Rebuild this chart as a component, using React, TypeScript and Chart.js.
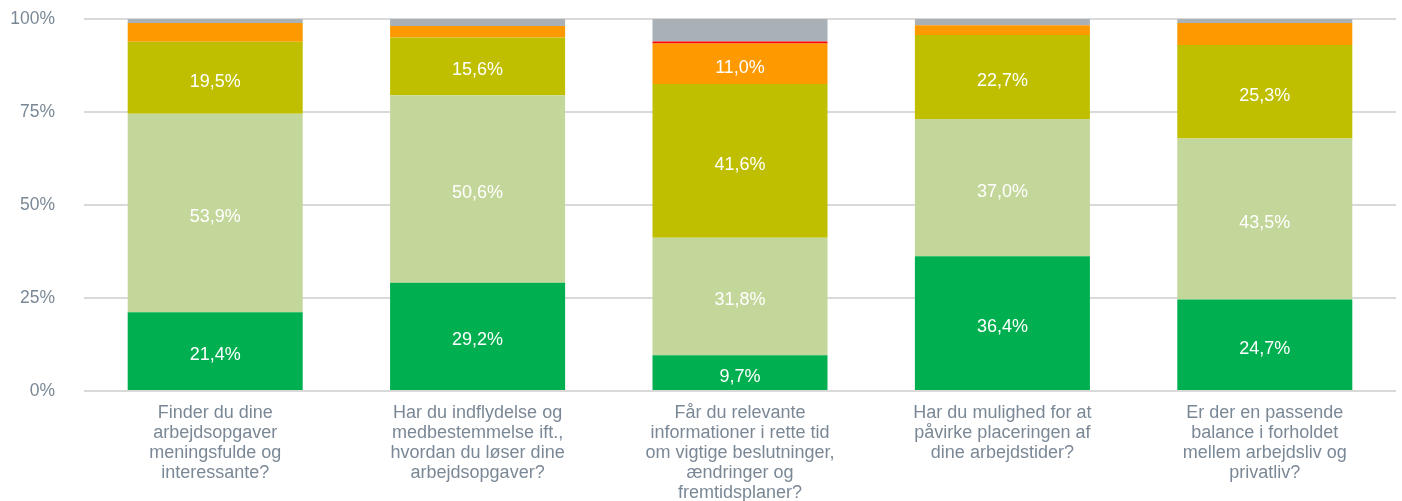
import React, { useEffect, useRef } from "react";
import { Chart, registerables } from "chart.js";

Chart.register(...registerables);

const categories: string[][] = [
  ["Finder du dine", "arbejdsopgaver", "meningsfulde og", "interessante?"],
  ["Har du indflydelse og", "medbestemmelse ift.,", "hvordan du løser dine", "arbejdsopgaver?"],
  ["Får du relevante", "informationer i rette tid", "om vigtige beslutninger,", "ændringer og", "fremtidsplaner?"],
  ["Har du mulighed for at", "påvirke placeringen af", "dine arbejdstider?"],
  ["Er der en passende", "balance i forholdet", "mellem arbejdsliv og", "privatliv?"],
];

const darkGreen = [21.4, 29.2, 9.7, 36.4, 24.7];
const lightGreen = [53.9, 50.6, 31.8, 37.0, 43.5];
const olive = [19.5, 15.6, 41.6, 22.7, 25.3];
const orange = [5.1, 3.1, 11.0, 2.6, 5.9];
const red = [0, 0, 0.5, 0, 0];
const gray = [1.1, 1.9, 6.1, 1.7, 1.1];

const yTicks = [0, 25, 50, 75, 100];

const seriesList = [
  { values: darkGreen, color: "#00b050" },
  { values: lightGreen, color: "#c4d79b" },
  { values: olive, color: "#bfbf00" },
  { values: orange, color: "#ff9900" },
  { values: red, color: "#ff0000" },
  { values: gray, color: "#a9b1b7" },
];

const FONT = "'Liberation Sans', Arial, sans-serif";
const TICK_COLOR = "#7a8896";

const totals = categories.map((_, i) =>
  seriesList.reduce((s, d) => s + d.values[i], 0)
);

const labelPlugin = {
  id: "segLabels",
  afterDatasetsDraw(chart: any) {
    const ctx = chart.ctx;
    ctx.save();
    ctx.font = `18px ${FONT}`;
    ctx.fillStyle = "#ffffff";
    ctx.textAlign = "center";
    ctx.textBaseline = "middle";
    chart.data.datasets.forEach((ds: any, di: number) => {
      const meta = chart.getDatasetMeta(di);
      meta.data.forEach((el: any, i: number) => {
        const v = ds.rawValues[i];
        if (v >= 8) {
          const txt = v.toFixed(1).replace(".", ",") + "%";
          ctx.fillText(txt, el.x, (el.y + el.base) / 2 + 4);
        }
      });
    });
    ctx.restore();
  },
};

export default function App() {
  const ref = useRef<HTMLCanvasElement>(null);
  useEffect(() => {
    if (!ref.current) return;
    const chart = new Chart(ref.current, {
      type: "bar",
      data: {
        labels: categories as any,
        datasets: seriesList.map((s) => ({
          data: s.values.map((v, i) => (v / totals[i]) * 100),
          rawValues: s.values,
          backgroundColor: s.color,
          borderWidth: 0,
          categoryPercentage: 1,
          barPercentage: 0.667,
        })) as any,
      },
      options: {
        animation: false,
        responsive: false,
        layout: { padding: { top: 19, right: 6, left: 0, bottom: 0 } },
        plugins: {
          legend: { display: false },
          tooltip: { enabled: false },
        },
        scales: {
          x: {
            stacked: true,
            grid: { display: false, drawTicks: false },
            border: { display: false },
            ticks: {
              color: TICK_COLOR,
              font: { family: FONT, size: 18, lineHeight: "20px" },
              padding: 12,
              maxRotation: 0,
              autoSkip: false,
            },
            afterFit: (scale: any) => {
              scale.height = 110;
            },
          },
          y: {
            stacked: true,
            min: 0,
            max: 100,
            afterBuildTicks: (scale: any) => {
              scale.ticks = yTicks.map((v) => ({ value: v }));
            },
            grid: { color: "#d9d9d9", lineWidth: 2, drawTicks: false },
            border: { display: false },
            ticks: {
              color: TICK_COLOR,
              font: { family: FONT, size: 17.5 },
              padding: 29,
              callback: (v: any) => v + "%",
            },
            afterFit: (scale: any) => {
              scale.width = 84;
              scale.paddingTop = 0;
              scale.paddingBottom = 0;
            },
          },
        },
      },
      plugins: [labelPlugin],
    });
    return () => chart.destroy();
  }, []);
  return (
    <div style={{ position: "absolute", left: 0, top: 0, width: 1402, height: 501 }}>
      <canvas ref={ref} width={1402} height={501} />
    </div>
  );
}
